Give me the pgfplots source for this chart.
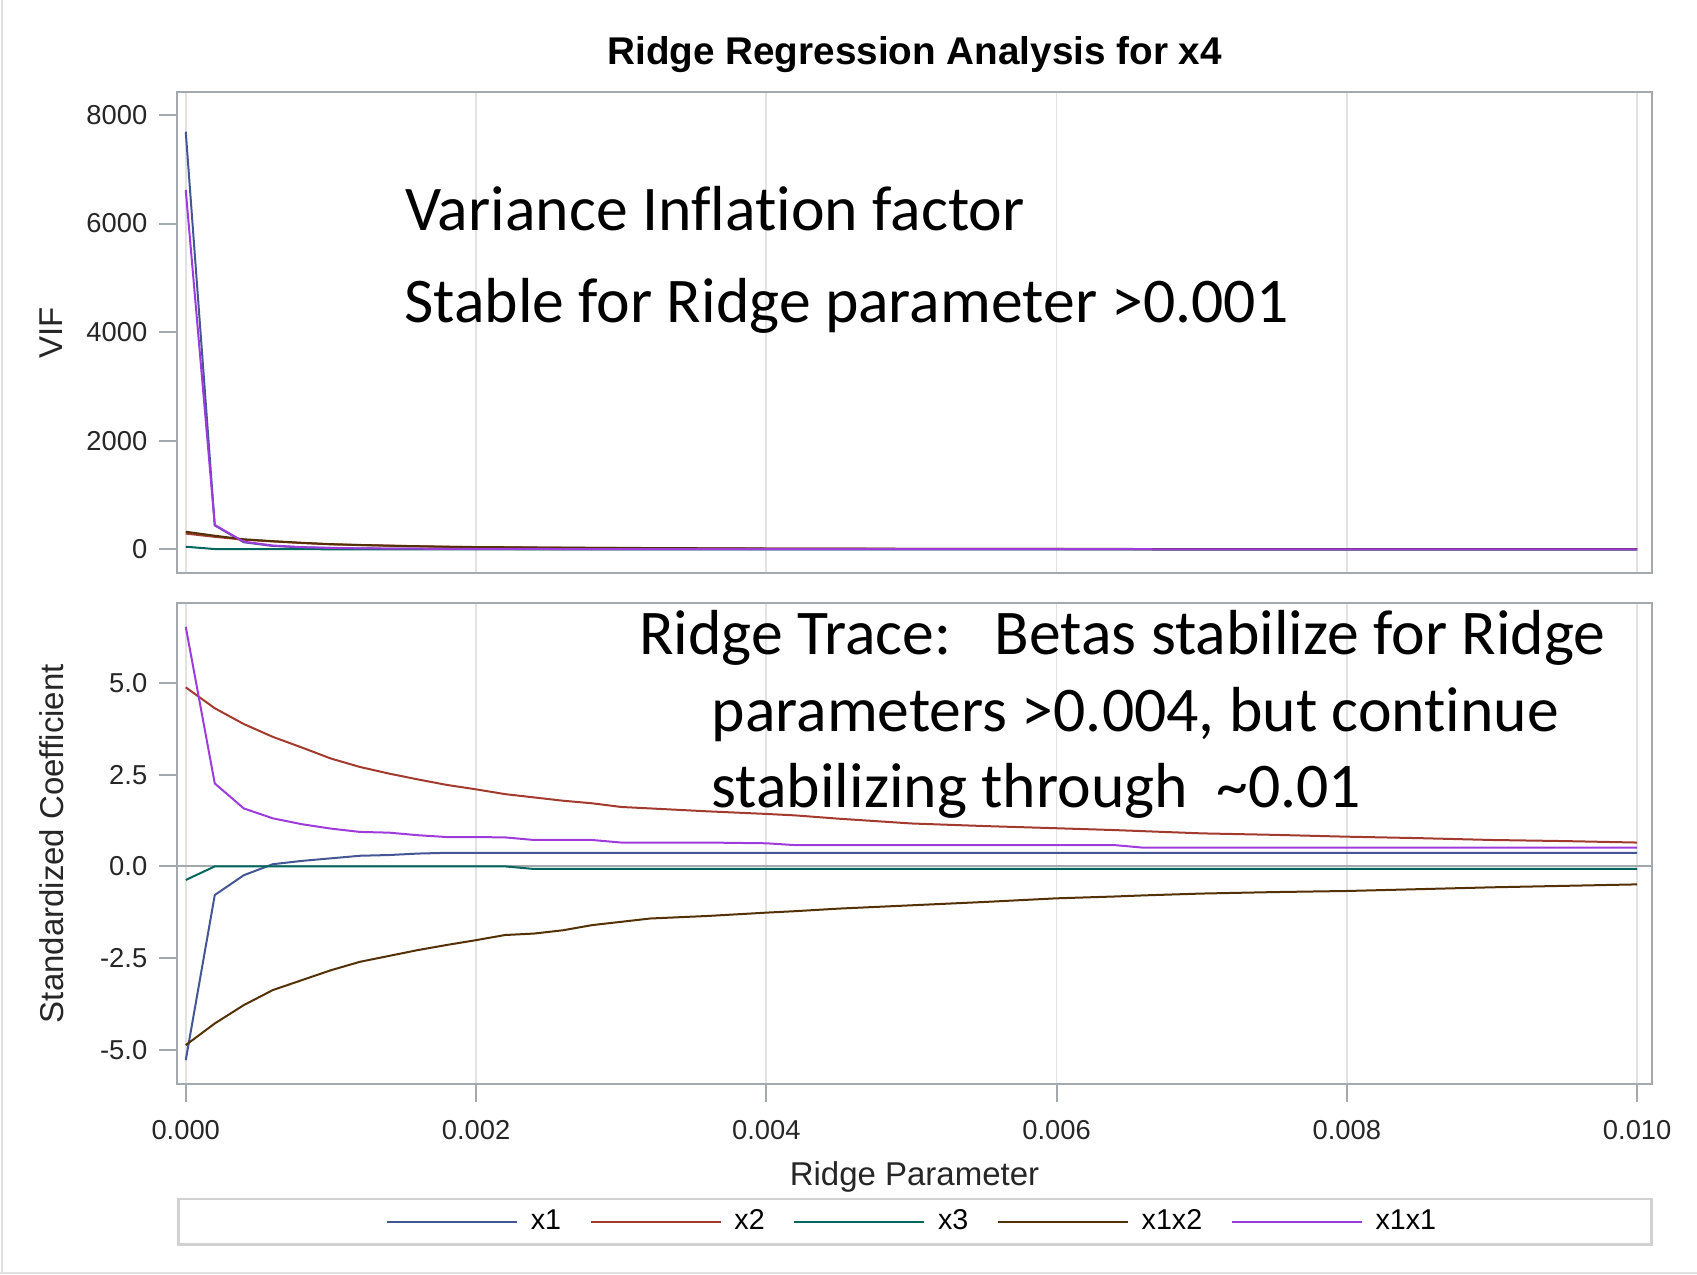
\documentclass[border=0pt]{standalone}
\usepackage{fontspec}
\setmainfont{Liberation Sans}
\newfontfamily\carlito[Ligatures=NoCommon]{Carlito}
\usepackage{pgfplots}
\usepackage{pgfplotstable}
\pgfplotsset{compat=1.18}

\definecolor{gd1}{HTML}{445694}
\definecolor{gd2}{HTML}{A23A2E}
\definecolor{gd3}{HTML}{01665E}
\definecolor{gd4}{HTML}{543005}
\definecolor{gd5}{HTML}{9D3CDB}
\definecolor{axisgray}{HTML}{A4A9AE}
\definecolor{gridgray}{HTML}{E2E2E2}

% VIF by ridge parameter
\pgfplotstableread{
r      x1    x2   x3  x1x2  x1x1
0      7692  290  48  324   6618
0.0002 440   230  5   250   448
0.0004 130   178  3   185   140
0.0006 62    145  2   150   70
0.0008 36    116  2   120   40
0.0010 24    92   1   95    26
0.0012 17    78   1   80    18
0.0014 13    66   1   68    14
0.0016 10    55   1   57    11
0.0018 8     46   1   48    9
0.0020 7     40   1   42    8
0.0025 5     30   1   32    6
0.0030 4     24   1   26    4
0.0035 3     18   1   20    3
0.0040 3     14   1   15    3
0.0050 2     9    1   10    2
0.0060 2     6    1   7     2
0.0070 1     5    1   5     1
0.0080 1     4    1   4     1
0.0090 1     3    1   3     1
0.0100 1     2    1   2     1
}\viftab

% standardized coefficients by ridge parameter
\pgfplotstableread{
r      x1     x2    x3     x1x2   x1x1
0      -5.28  4.88  -0.37  -4.87  6.53
0.0002 -0.78  4.31  0.00   -4.28  2.26
0.0004 -0.24  3.88  0.00   -3.78  1.58
0.0006 0.06   3.53  0.00   -3.37  1.31
0.0008 0.15   3.24  0.00   -3.10  1.15
0.0010 0.22   2.94  0.00   -2.83  1.03
0.0012 0.29   2.71  0.00   -2.60  0.94
0.0014 0.31   2.53  0.00   -2.44  0.92
0.0016 0.35   2.37  0.00   -2.28  0.85
0.0018 0.37   2.22  0.00   -2.14  0.80
0.0020 0.37   2.10  0.00   -2.01  0.80
0.0022 0.37   1.97  0.00   -1.87  0.79
0.0024 0.37   1.88  -0.07  -1.83  0.72
0.0026 0.37   1.79  -0.07  -1.74  0.72
0.0028 0.37   1.72  -0.07  -1.60  0.72
0.0030 0.37   1.62  -0.07  -1.51  0.65
0.0032 0.37   1.58  -0.07  -1.42  0.65
0.0036 0.37   1.50  -0.07  -1.35  0.65
0.0040 0.37   1.43  -0.07  -1.26  0.63
0.0042 0.37   1.39  -0.07  -1.22  0.58
0.0045 0.37   1.30  -0.07  -1.15  0.58
0.0050 0.37   1.17  -0.07  -1.06  0.58
0.0055 0.37   1.10  -0.07  -0.97  0.58
0.0060 0.37   1.04  -0.07  -0.87  0.58
0.0064 0.37   0.99  -0.07  -0.82  0.58
0.0066 0.37   0.96  -0.07  -0.79  0.51
0.0070 0.37   0.90  -0.07  -0.74  0.51
0.0075 0.37   0.86  -0.07  -0.70  0.51
0.0080 0.37   0.81  -0.07  -0.67  0.51
0.0085 0.37   0.77  -0.07  -0.62  0.51
0.0090 0.37   0.72  -0.07  -0.57  0.51
0.0095 0.37   0.69  -0.07  -0.53  0.51
0.0100 0.37   0.65  -0.07  -0.49  0.51
}\coeftab

\pgfplotsset{
  sas/.style={
    scale only axis, width=442.3pt, height=144.3pt,
    xmin=-0.000058, xmax=0.0101,
    xtick={0,0.002,0.004,0.006,0.008,0.01},
    axis line style={axisgray, line width=0.6pt},
    every tick/.style={axisgray, line width=0.6pt},
    tick align=outside, major tick length=5.5pt,
    xtick pos=lower, ytick pos=left,
    xmajorgrids, major grid style={gridgray, line width=0.5pt},
    tick label style={font=\fontsize{8.2}{9.5}\selectfont, text=black!85},
    label style={font=\fontsize{9.9}{11}\selectfont, text=black!85},
    /pgf/number format/assume math mode=true,
    scaled x ticks=false, scaled y ticks=false,
    every axis plot/.append style={line width=0.6pt},
  }
}

\begin{document}
\begin{tikzpicture}
\useasboundingbox (0,0) rectangle (509.1pt,382.5pt);

% VIF panel
\begin{axis}[sas, at={(53.2pt,210.5pt)}, anchor=south west,
    ymin=-442, ymax=8418, ytick={0,2000,4000,6000,8000},
    yticklabel style={/pgf/number format/1000 sep={}},
    xticklabels={}, xtick style={draw=none},
    ylabel={VIF},
    ylabel style={at={(axis description cs:-0.0857,0.5)}, anchor=center, rotate=0},
]
\addplot[gd1] table[x=r, y=x1] {\viftab};
\addplot[gd2] table[x=r, y=x2] {\viftab};
\addplot[gd3] table[x=r, y=x3] {\viftab};
\addplot[gd4] table[x=r, y=x1x2] {\viftab};
\addplot[gd5] table[x=r, y=x1x1] {\viftab};
\end{axis}

% ridge trace panel
\begin{axis}[sas, at={(53.2pt,57.3pt)}, anchor=south west, height=144.2pt,
    ymin=-5.93, ymax=7.17, ytick={-5,-2.5,0,2.5,5},
    yticklabel style={/pgf/number format/.cd, fixed, fixed zerofill, precision=1},
    xticklabel style={yshift=-2pt, /pgf/number format/.cd, fixed, fixed zerofill, precision=3},
    xlabel={Ridge Parameter},
    xlabel style={at={(axis description cs:0.5,-0.194)}, anchor=center},
    ylabel={Standardized Coefficient},
    ylabel style={at={(axis description cs:-0.0850,0.5)}, anchor=center, rotate=0},
    legend columns=5,
    legend style={at={(axis description cs:0.5,-0.2864)}, anchor=center,
        draw=none, fill=none, font=\fontsize{8.6}{9.5}\selectfont,
        /tikz/every odd column/.append style={column sep=1.8pt},
        /tikz/every even column/.append style={column sep=6.6pt}},
    legend image code/.code={\draw[#1] plot coordinates {(0pt,0pt) (39pt,0pt)};},
]
\draw[axisgray, line width=0.6pt] (axis cs:-0.000058,0) -- (axis cs:0.0101,0);
\addplot[gd1] table[x=r, y=x1] {\coeftab};
\addlegendentry{x1}
\addplot[gd2] table[x=r, y=x2] {\coeftab};
\addlegendentry{x2}
\addplot[gd3] table[x=r, y=x3] {\coeftab};
\addlegendentry{x3}
\addplot[gd4] table[x=r, y=x1x2] {\coeftab};
\addlegendentry{x1x2}
\addplot[gd5] table[x=r, y=x1x1] {\coeftab};
\addlegendentry{x1x1}
\end{axis}

% legend frame
\draw[black!18, line width=0.8pt] (53.6pt,9.1pt) rectangle (495.5pt,22.8pt);

% title
\node[font=\bfseries\fontsize{11.6}{13}\selectfont] at (274.4pt,366.0pt) {Ridge Regression Analysis for x4};

% annotations
\begin{scope}[every node/.style={anchor=base west, inner sep=0pt, font=\carlito\fontsize{19.1}{23}\selectfont}]
\node at (121.4pt,313.3pt) {Variance Inflation factor};
\node at (121.1pt,285.7pt) {Stable for Ridge parameter >0.001};
\node at (191.6pt,186.1pt) {Ridge Trace:\ \ \ Betas stabilize for Ridge};
\node at (213.3pt,163.0pt) {parameters >0.004, but continue};
\node at (213.3pt,140.3pt) {stabilizing through\ \ \textasciitilde0.01};
\end{scope}

% outer frame
\draw[black!12, line width=0.6pt] (0.6pt,0.6pt) -- (0.6pt,382.5pt);
\draw[black!12, line width=0.6pt] (0pt,0.6pt) -- (509.1pt,0.6pt);
\end{tikzpicture}
\end{document}
